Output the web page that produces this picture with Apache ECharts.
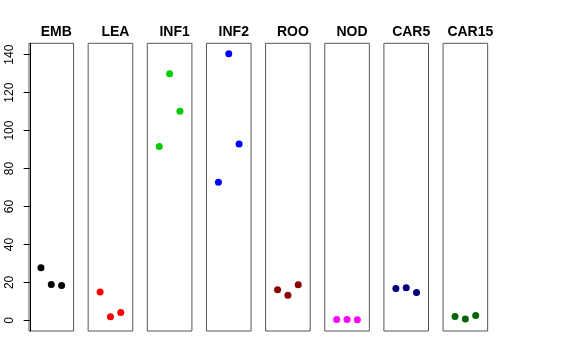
<!DOCTYPE html>
<html>
<head>
<meta charset="utf-8">
<script src="https://cdn.jsdelivr.net/npm/echarts@6/dist/echarts.min.js"></script>
<style>html,body{margin:0;padding:0;background:#fff}#c{width:576px;height:360px}</style>
</head>
<body>
<div id="c"></div>
<script>
const categories = ['EMB','LEA','INF1','INF2','ROO','NOD','CAR5','CAR15'];
const xPositions = [1, 2, 3];
const EMB = [27.7, 18.9, 18.4];
const LEA = [14.9, 1.9, 4.2];
const INF1 = [91.6, 130.0, 110.2];
const INF2 = [72.8, 140.5, 93.0];
const ROO = [16.2, 13.2, 18.8];
const NOD = [0.4, 0.5, 0.3];
const CAR5 = [16.8, 17.2, 14.7];
const CAR15 = [2.1, 0.7, 2.6];
const yTicks = [0, 20, 40, 60, 80, 100, 120, 140];
const colors = ['#000000','#FF0000','#00CD00','#0000FF','#8B0000','#FF00FF','#000080','#006400'];

(function () {
const seriesValues = [EMB, LEA, INF1, INF2, ROO, NOD, CAR5, CAR15];
const chart = echarts.init(document.getElementById('c'));
const grids = [], xAxes = [], yAxes = [], series = [], titles = [];
const left0 = 29, step = 59.15, w = 44.6, gTop = 43.3, h = 287.7;
categories.forEach((cat, i) => {
  const l = left0 + i * step;
  grids.push({left: l, top: gTop, width: w, height: h, show: true, borderColor: '#555', borderWidth: 1, backgroundColor: 'transparent'});
  xAxes.push({type: 'value', gridIndex: i, min: -0.16, max: 4.16, show: false});
  const first = i === 0;
  yAxes.push({
    type: 'value', gridIndex: i, min: -5.6, max: 146, show: first,
    splitLine: {show: false},
    axisLine: {show: first, lineStyle: {color: '#000', width: 1}},
    axisTick: {show: first, length: 7, inside: false, customValues: yTicks, lineStyle: {color: '#000'}},
    axisLabel: {show: first, customValues: yTicks, rotate: 90, margin: 13, color: '#000', fontSize: 12, fontFamily: 'Liberation Sans, Arial, sans-serif'}
  });
  titles.push({text: cat, left: l + w / 2, top: 20, textAlign: 'center',
    textStyle: {fontSize: 14, fontWeight: 'bold', color: '#000', fontFamily: 'Liberation Sans, Arial, sans-serif'}});
  series.push({
    type: 'scatter', xAxisIndex: i, yAxisIndex: i, symbol: 'circle', symbolSize: 7,
    itemStyle: {color: colors[i], opacity: 1},
    data: xPositions.map((x, j) => [x, seriesValues[i][j]])
  });
});
chart.setOption({animation: false, title: titles, grid: grids, xAxis: xAxes, yAxis: yAxes, series: series});
})();
</script>
</body>
</html>
